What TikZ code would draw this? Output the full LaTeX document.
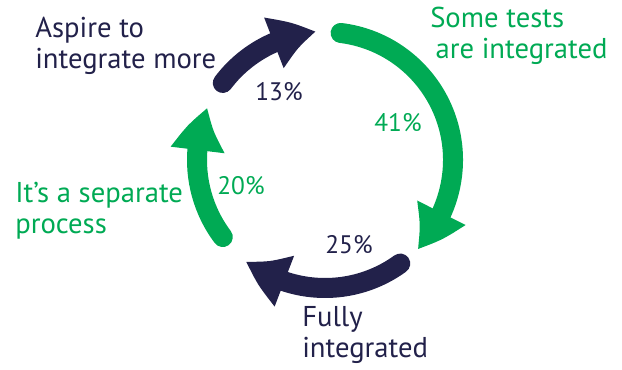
\documentclass[tikz,border=0pt]{standalone}
\usepackage{fontspec}
\setmainfont{PT Sans}
\usetikzlibrary{arrows.meta, bending, positioning}
\definecolor{cycgreen}{RGB}{0,170,84}
\definecolor{cycnavy}{RGB}{34,33,74}

\begin{document}
\begin{tikzpicture}[x=0.75pt, y=0.75pt,
    cycarrow/.style={line width=15pt, line cap=round, -{Triangle[length=33pt, width=38pt, bend]}},
    lbl/.style={font=\fontsize{21.5}{23}\selectfont, align=left, anchor=base west, inner sep=0pt},
    pct/.style={font=\fontsize{19}{21}\selectfont, inner sep=0pt}]
  \useasboundingbox (0,0) rectangle (622,369);

  % Centre of the cycle
  \coordinate (c) at (325,209);

  % Arrows round the cycle
  \draw[cycarrow, cycgreen] ([shift={(83:128)}]c) arc[start angle=83, end angle=-44, radius=128];
  \draw[cycarrow, cycnavy] ([shift={(-54:128)}]c) arc[start angle=-54, end angle=-128, radius=128];
  \draw[cycarrow, cycgreen] ([shift={(217:128)}]c) arc[start angle=217, end angle=156, radius=128];
  \draw[cycarrow, cycnavy] ([shift={(143:128)}]c) arc[start angle=143, end angle=94, radius=128];

  % Labels (anchored at the baseline of their last line)
  \node[lbl, text=cycnavy] (aspire) at (35,301) {Aspire to\\integrate more};
  \node[lbl, text=cycgreen] (some) at (430,311) {Some tests\\\hspace*{4pt}are integrated};
  \node[lbl, text=cycgreen] (separate) at (15,136) {It’s a separate\\process};
  \node[lbl, text=cycnavy] (fully) at (302,12) {Fully\\integrated};

  % Shares
  \node[pct, text=cycnavy] (p13) at (279,277) {13\%};
  \node[pct, text=cycgreen] (p41) at (398,246) {41\%};
  \node[pct, text=cycnavy] (p25) at (349,124) {25\%};
  \node[pct, text=cycgreen] (p20) at (241,183) {20\%};
\end{tikzpicture}
\end{document}
